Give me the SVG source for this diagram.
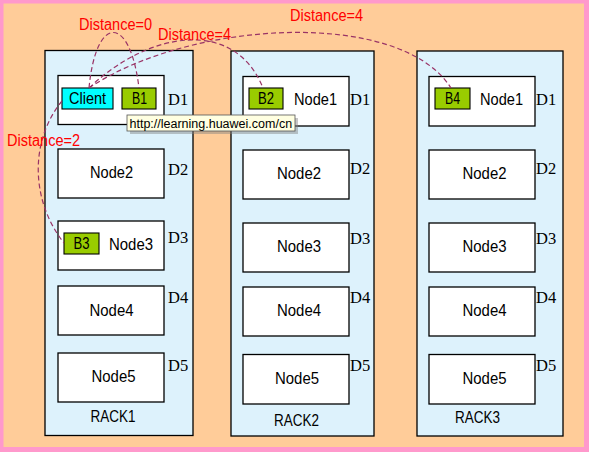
<svg xmlns="http://www.w3.org/2000/svg" width="589" height="452" viewBox="0 0 589 452">
<style>
.rack{fill:#DDF2FC;stroke:#000;stroke-width:1.3}
.node{fill:#fff;stroke:#000;stroke-width:1.3}
.blk{fill:#99CC00;stroke:#000;stroke-width:1.1}
.cli{fill:#00FFFF;stroke:#000;stroke-width:1.1}
.t{font-family:"Liberation Sans",Arial,sans-serif;font-size:16.5px;fill:#000;text-anchor:middle}
.d{font-family:"Liberation Serif","Times New Roman",serif;font-size:16.5px;fill:#000}
.lbl{font-family:"Liberation Sans",Arial,sans-serif;font-size:16px;fill:#FF0000}
.c{fill:none;stroke:#993366;stroke-width:1.2;stroke-dasharray:5 3}
</style>
<rect x="0" y="0" width="589" height="452" fill="#FF99CC"/>
<rect x="3.5" y="3.5" width="580.5" height="443.5" fill="#FFCC99"/>

<g id="rack1">
<rect class="rack" x="45" y="50.5" width="148" height="385"/>
<text class="t" x="113" y="422" textLength="45" lengthAdjust="spacingAndGlyphs">RACK1</text>
<g id="r1n1"><rect class="node" x="58" y="75.5" width="106" height="49"/>
<rect class="cli" x="62" y="88" width="51" height="21"/><text class="t" x="87.5" y="103.5" textLength="37" lengthAdjust="spacingAndGlyphs">Client</text>
<rect class="blk" x="122" y="88" width="34" height="21"/><text class="t" x="139.5" y="103.5" textLength="15" lengthAdjust="spacingAndGlyphs">B1</text>
<text class="d" x="168" y="105">D1</text></g>
<g id="r1n2"><rect class="node" x="58" y="149" width="106" height="49"/><text class="t" x="111.5" y="178" textLength="43" lengthAdjust="spacingAndGlyphs">Node2</text><text class="d" x="168" y="175">D2</text></g>
<g id="r1n3"><rect class="node" x="58" y="221" width="106" height="49"/>
<rect class="blk" x="64" y="233" width="35" height="21"/><text class="t" x="81.5" y="249" textLength="16" lengthAdjust="spacingAndGlyphs">B3</text>
<text class="t" x="131" y="250" textLength="44" lengthAdjust="spacingAndGlyphs">Node3</text><text class="d" x="168" y="243">D3</text></g>
<g id="r1n4"><rect class="node" x="58" y="286" width="106" height="49"/><text class="t" x="111.5" y="316" textLength="44" lengthAdjust="spacingAndGlyphs">Node4</text><text class="d" x="168" y="303">D4</text></g>
<g id="r1n5"><rect class="node" x="58" y="353" width="106" height="49"/><text class="t" x="113.5" y="382" textLength="44" lengthAdjust="spacingAndGlyphs">Node5</text><text class="d" x="168" y="371">D5</text></g>
</g>

<g id="rack2">
<rect class="rack" x="231" y="51" width="143" height="385"/>
<text class="t" x="296.5" y="426" textLength="45" lengthAdjust="spacingAndGlyphs">RACK2</text>
<g id="r2n1"><rect class="node" x="243" y="76.5" width="106" height="49.5"/>
<rect class="blk" x="249" y="88" width="34" height="21"/><text class="t" x="266" y="104" textLength="16" lengthAdjust="spacingAndGlyphs">B2</text>
<text class="t" x="315.5" y="105" textLength="43" lengthAdjust="spacingAndGlyphs">Node1</text><text class="d" x="350" y="105">D1</text></g>
<g id="r2n2"><rect class="node" x="243" y="150" width="106" height="49"/><text class="t" x="299" y="179" textLength="44" lengthAdjust="spacingAndGlyphs">Node2</text><text class="d" x="350" y="174">D2</text></g>
<g id="r2n3"><rect class="node" x="243" y="223" width="106" height="49"/><text class="t" x="299" y="252" textLength="44" lengthAdjust="spacingAndGlyphs">Node3</text><text class="d" x="350" y="244">D3</text></g>
<g id="r2n4"><rect class="node" x="243" y="287" width="106" height="49"/><text class="t" x="299" y="316" textLength="44" lengthAdjust="spacingAndGlyphs">Node4</text><text class="d" x="350" y="303">D4</text></g>
<g id="r2n5"><rect class="node" x="243" y="354.5" width="106" height="49.5"/><text class="t" x="297" y="384" textLength="44" lengthAdjust="spacingAndGlyphs">Node5</text><text class="d" x="350" y="371">D5</text></g>
</g>

<g id="rack3">
<rect class="rack" x="417" y="51" width="146" height="385"/>
<text class="t" x="477.5" y="423" textLength="45" lengthAdjust="spacingAndGlyphs">RACK3</text>
<g id="r3n1"><rect class="node" x="429" y="76.5" width="106" height="49.5"/>
<rect class="blk" x="435" y="88" width="35" height="21"/><text class="t" x="452.5" y="104" textLength="15" lengthAdjust="spacingAndGlyphs">B4</text>
<text class="t" x="501.5" y="105" textLength="43" lengthAdjust="spacingAndGlyphs">Node1</text><text class="d" x="536" y="105">D1</text></g>
<g id="r3n2"><rect class="node" x="429" y="150" width="106" height="49"/><text class="t" x="484.5" y="179" textLength="44" lengthAdjust="spacingAndGlyphs">Node2</text><text class="d" x="536" y="174">D2</text></g>
<g id="r3n3"><rect class="node" x="429" y="223" width="106" height="49"/><text class="t" x="484.5" y="252" textLength="44" lengthAdjust="spacingAndGlyphs">Node3</text><text class="d" x="536" y="244">D3</text></g>
<g id="r3n4"><rect class="node" x="429" y="287" width="106" height="49"/><text class="t" x="484.5" y="316" textLength="44" lengthAdjust="spacingAndGlyphs">Node4</text><text class="d" x="536" y="303">D4</text></g>
<g id="r3n5"><rect class="node" x="429" y="354.5" width="106" height="49.5"/><text class="t" x="484.5" y="384" textLength="44" lengthAdjust="spacingAndGlyphs">Node5</text><text class="d" x="536" y="371">D5</text></g>
</g>

<g id="connectors">
<path class="c" d="M89,88 C96,14 130,14 139,88"/>
<path class="c" d="M89,88 C150,30 235,18 263,88"/>
<path class="c" d="M89,88 C190,20 400,8 451,88"/>
<path class="c" d="M62,101 C30,140 30,200 64,243"/>
</g>

<g id="labels">
<text class="lbl" x="79" y="30" textLength="73" lengthAdjust="spacingAndGlyphs">Distance=0</text>
<text class="lbl" x="158" y="40" textLength="73" lengthAdjust="spacingAndGlyphs">Distance=4</text>
<text class="lbl" x="290" y="21" textLength="73" lengthAdjust="spacingAndGlyphs">Distance=4</text>
<text class="lbl" x="7" y="146" textLength="73" lengthAdjust="spacingAndGlyphs">Distance=2</text>
</g>

<g id="tooltip">
<rect x="130" y="118" width="168" height="16" fill="#808080" opacity="0.45"/>
<rect x="127" y="115" width="168" height="16" fill="#FFFFE1" stroke="#555" stroke-width="0.8"/>
<text x="129.5" y="127.5" font-family="'Liberation Sans',Arial,sans-serif" font-size="12.5px" fill="#000">http://learning.huawei.com/cn</text>
</g>
</svg>
